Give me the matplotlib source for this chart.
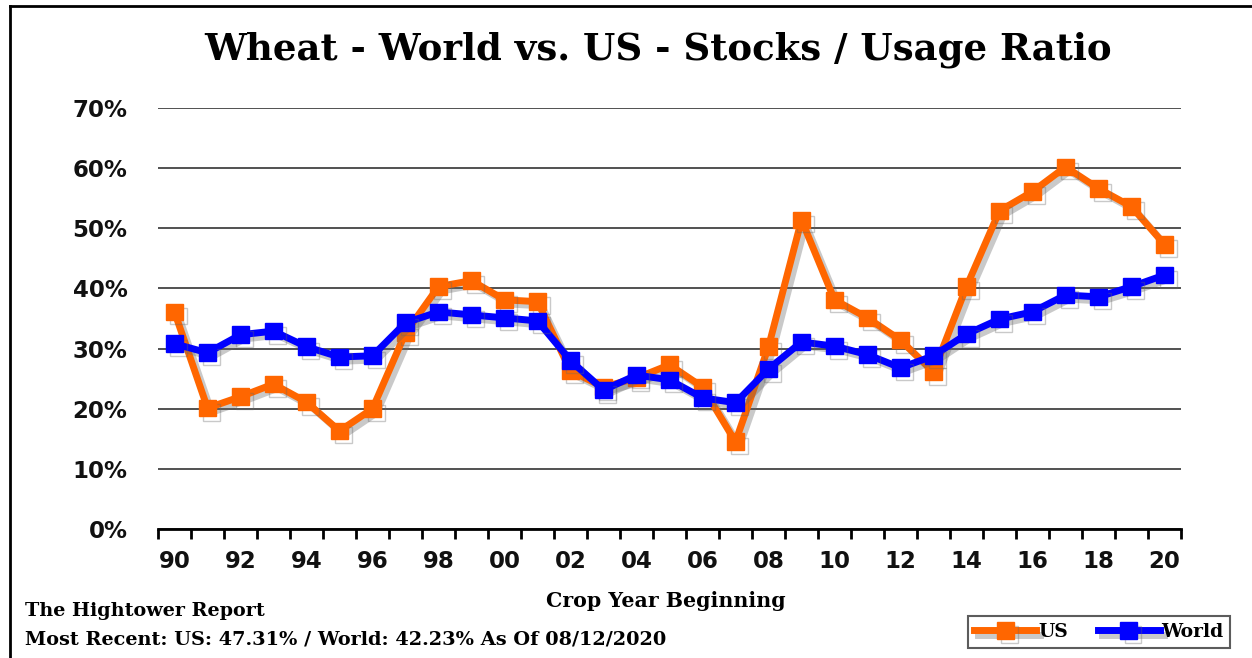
import numpy as np
import matplotlib
matplotlib.use("Agg")
import matplotlib.pyplot as plt
import matplotlib.patheffects as pe
from matplotlib.lines import Line2D

years = list(range(1990, 2021))
year_labels = [f"{y % 100:02d}" for y in years]

us = [36.1, 20.1, 22.0, 24.1, 21.1, 16.3, 20.0, 32.6, 40.3, 41.3,
      38.1, 37.8, 26.3, 23.6, 25.1, 27.3, 23.6, 14.5, 30.3, 51.4,
      38.1, 35.1, 31.4, 26.1, 40.3, 52.9, 56.1, 60.2, 56.6, 53.6, 47.31]
world = [30.8, 29.3, 32.3, 32.9, 30.3, 28.6, 28.8, 34.3, 36.1, 35.6,
         35.1, 34.6, 28.0, 23.1, 25.6, 24.8, 21.8, 21.0, 26.6, 31.1,
         30.4, 29.0, 26.8, 28.8, 32.4, 34.9, 36.1, 38.9, 38.6, 40.3, 42.23]

US_COLOR = "#FF6600"
WORLD_COLOR = "#0000FF"
serif = "DejaVu Serif"

fig = plt.figure(figsize=(12.52, 6.58), dpi=100)
ax = fig.add_axes([158 / 1252, 1 - 529 / 658, 1023 / 1252, 421 / 658])

x = np.arange(len(years))
shadow = [pe.SimpleLineShadow(offset=(3, -3), shadow_color="#666666", alpha=0.35), pe.Normal()]
ax.plot(x, us, color=US_COLOR, lw=5, marker="s", ms=12, label="US",
        path_effects=shadow, zorder=3)
ax.plot(x, world, color=WORLD_COLOR, lw=5, marker="s", ms=12, label="World",
        path_effects=shadow, zorder=4)

ax.set_xlim(-0.5, len(years) - 0.5)
ax.set_ylim(0, 70)
ax.set_yticks(np.arange(0, 71, 10))
ax.set_yticklabels([f"{v}%" for v in range(0, 71, 10)])
ax.yaxis.grid(True, color="#333333", lw=1.2)
ax.set_axisbelow(True)
ax.tick_params(axis="y", length=0, pad=22)

# category axis: ticks between categories, labels on every second year
ax.set_xticks(np.arange(-0.5, len(years)), minor=True)
ax.set_xticks(x[::2])
ax.set_xticklabels(year_labels[::2])
ax.tick_params(axis="x", which="major", length=0, pad=15)
ax.tick_params(axis="x", which="minor", length=7, width=2, direction="out")
for lab in ax.get_xticklabels() + ax.get_yticklabels():
    lab.set_fontweight("bold")
    lab.set_fontsize(16.5)
    lab.set_color("#111111")

for s in ["left", "right", "top"]:
    ax.spines[s].set_visible(False)
ax.spines["bottom"].set_linewidth(2)

fig.text(658 / 1252, 1 - 50 / 658, "Wheat - World vs. US - Stocks / Usage Ratio",
         ha="center", va="center", fontsize=26.7, fontweight="bold", family=serif)
fig.text(666 / 1252, 1 - 601 / 658, "Crop Year Beginning", ha="center", va="center",
         fontsize=14.8, fontweight="bold", family=serif)
fig.text(25 / 1252, 1 - 611 / 658, "The Hightower Report", ha="left", va="center",
         fontsize=13.8, fontweight="bold", family=serif)
fig.text(25 / 1252, 1 - 639 / 658,
         "Most Recent: US: 47.31% / World: 42.23% As Of 08/12/2020",
         ha="left", va="center", fontsize=13.9, fontweight="bold", family=serif)

leg = fig.legend(loc="center", bbox_to_anchor=(1099 / 1252, 1 - 632 / 658), ncol=2,
                 frameon=True, fancybox=False, edgecolor="#333333", handlelength=3.3,
                 handletextpad=0.1, columnspacing=1.6, borderpad=0.35,
                 prop={"family": serif, "weight": "bold", "size": 13.5})
leg.get_frame().set_linewidth(1.5)

# outer frame (top and left edges)
fig.add_artist(Line2D([10 / 1252, 1], [1 - 6 / 658, 1 - 6 / 658], color="black", lw=2))
fig.add_artist(Line2D([10 / 1252, 10 / 1252], [0, 1 - 6 / 658], color="black", lw=2))

plt.savefig("out.png", dpi=100)
